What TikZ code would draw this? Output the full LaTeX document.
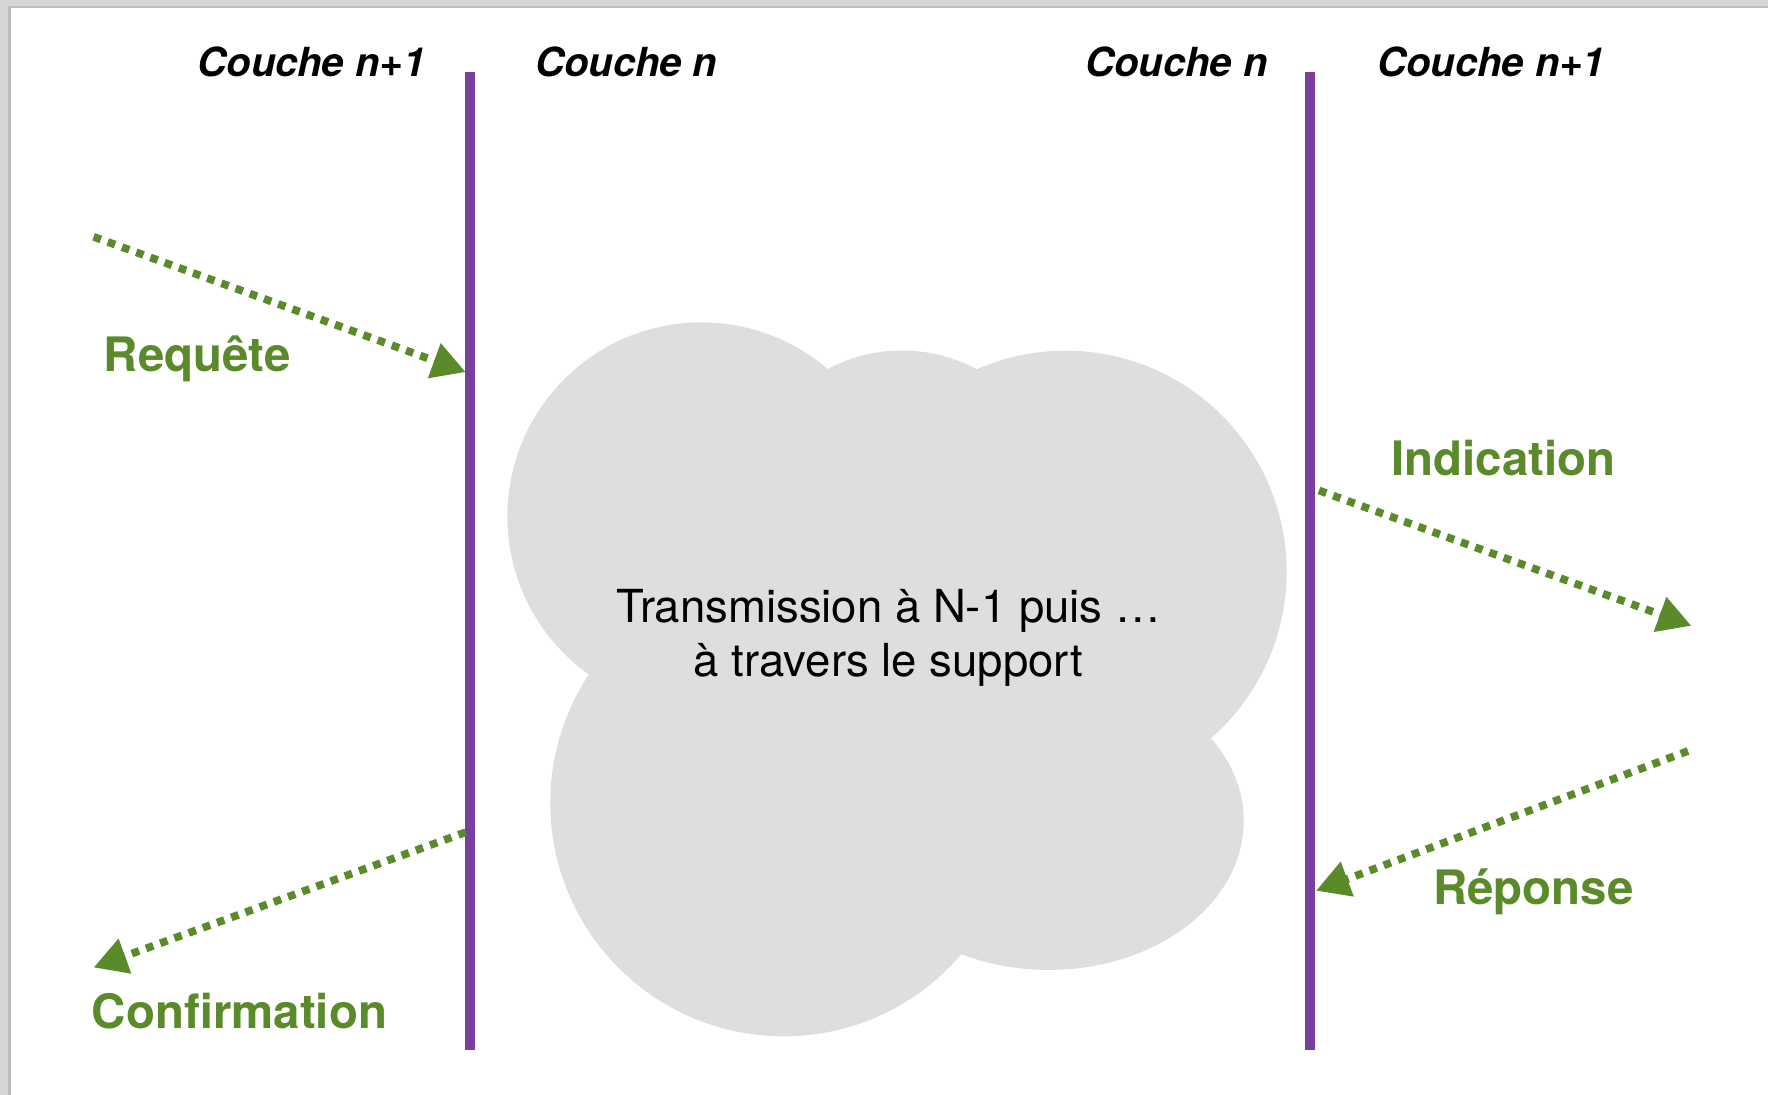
\documentclass[tikz,border=0pt]{standalone}
\usepackage{fontspec}
\setmainfont{TeX Gyre Heros}
\usetikzlibrary{arrows.meta}
\definecolor{primvert}{HTML}{5A8A29}
\definecolor{couchevio}{HTML}{7A3E9C}
\definecolor{nuage}{HTML}{DEDEDE}
\definecolor{ombre}{HTML}{D6D6D4}
\definecolor{ombrefonce}{HTML}{BDBDBB}

\begin{document}
\begin{tikzpicture}[x=0.02cm,y=-0.02cm,>={Triangle[length=19pt,width=20pt]},
        couche/.style={anchor=base,font=\fontsize{22.8}{26}\selectfont\bfseries\itshape},
        prim/.style={anchor=base,text=primvert,font=\fontsize{27}{30}\selectfont\bfseries},
        interface/.style={draw=couchevio,line width=5.7pt},
        flux/.style={->,draw=primvert,line width=4.4pt,dash pattern=on 4.4pt off 4.2pt}]
        \useasboundingbox (0,0) rectangle (1768,1095);
        \fill[ombre] (0,0) rectangle (1768,1095);
        \fill[ombrefonce] (8,6) rectangle (1768,1095);
        \fill[white] (11,8) rectangle (1768,1095);

        \fill[nuage] (701.4,516.4) circle[radius=194];
        \fill[nuage] (902,508.5) circle[radius=158];
        \fill[nuage] (1065.6,571.7) circle[radius=221];
        \fill[nuage] (783.7,802.9) circle[radius=233.4];
        \fill[nuage] (1048.7,820.9) ellipse[x radius=195,y radius=149];
        \node[align=center,font=\fontsize{25.9}{30.7}\selectfont] (transm) at (888.5,638) {Transmission à N-1 puis …\\à travers le support};

        \coordinate (gH) at (470,72);
        \coordinate (gB) at (470,1050);
        \coordinate (dH) at (1310,72);
        \coordinate (dB) at (1310,1050);
        \draw[interface] (gH) -- (gB);
        \draw[interface] (dH) -- (dB);

        \node[couche] (c1g) at (311.5,76.7) {Couche n+1};
        \node[couche] (c0g) at (626.4,76.7) {Couche n};
        \node[couche] (c0d) at (1176.6,76.7) {Couche n};
        \node[couche] (c1d) at (1491.3,76.7) {Couche n+1};

        \coordinate (reqA) at (93.6,236.8);
        \coordinate (reqB) at (465.7,372.1);
        \coordinate (indA) at (1319,490.5);
        \coordinate (indB) at (1691.4,625.8);
        \coordinate (repA) at (1688,751);
        \coordinate (repB) at (1316,890.8);
        \coordinate (confA) at (465.7,832.2);
        \coordinate (confB) at (93.6,967.5);

        \draw[flux] (reqA) -- (reqB);
        \draw[flux] (indA) -- (indB);
        \draw[flux] (repA) -- (repB);
        \draw[flux] (confA) -- (confB);

        \node[prim] (req) at (197.3,371) {Requête};
        \node[prim] (ind) at (1503.6,475) {Indication};
        \node[prim] (rep) at (1533.5,904) {Réponse};
        \node[prim] (conf) at (239.5,1028) {Confirmation};
\end{tikzpicture}
\end{document}
